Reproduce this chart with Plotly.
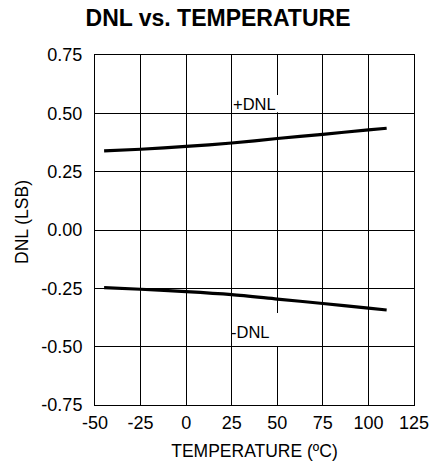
import plotly.graph_objects as go

# Temperature sweep (°C) and measured DNL extremes (LSB)
temp_c = [-45, -25, 0, 25, 50, 75, 100, 110]
dnl_pos = [0.339, 0.346, 0.358, 0.373, 0.392, 0.410, 0.429, 0.436]
dnl_neg = [-0.247, -0.254, -0.264, -0.277, -0.296, -0.315, -0.335, -0.343]

x_ticks = [-50, -25, 0, 25, 50, 75, 100, 125]
y_ticks = [-0.75, -0.50, -0.25, 0.00, 0.25, 0.50, 0.75]
y_tick_text = ["-0.75", "-0.50", "-0.25", "0.00", "0.25", "0.50", "0.75"]

FONT = "Liberation Sans, Arial, sans-serif"

fig = go.Figure()
for ys in (dnl_pos, dnl_neg):
    fig.add_trace(go.Scatter(
        x=temp_c, y=ys, mode="lines",
        line=dict(color="black", width=3.2, shape="spline", smoothing=0.8),
        showlegend=False, hoverinfo="skip",
    ))

# White label patches that hide the grid behind the curve names
fig.add_shape(type="rect", xref="x", yref="y", x0=25.4, x1=52, y0=0.505, y1=0.579,
              fillcolor="white", line_width=0, layer="between")
fig.add_shape(type="rect", xref="x", yref="y", x0=25.4, x1=52, y0=-0.497, y1=-0.356,
              fillcolor="white", line_width=0, layer="between")

fig.add_annotation(x=25, y=0.542, xref="x", yref="y", text="+DNL", showarrow=False,
                   xanchor="left", yanchor="middle", xshift=-1,
                   font=dict(family=FONT, size=16.5, color="black"))
fig.add_annotation(x=25, y=-0.437, xref="x", yref="y", text="-DNL", showarrow=False,
                   xanchor="left", yanchor="middle", xshift=-3,
                   font=dict(family=FONT, size=16.5, color="black"))

# Vertical axis title
fig.add_annotation(x=(22 - 95) / (430 - 95 - 16), y=(470 - 65 - 222) / (470 - 55 - 65),
                   xref="paper", yref="paper", text="DNL (LSB)",
                   showarrow=False, textangle=-90, xanchor="center", yanchor="middle",
                   font=dict(family=FONT, size=17.5, color="black"))

axis_common = dict(
    showgrid=True, gridcolor="black", gridwidth=1,
    showline=True, linecolor="black", linewidth=1, mirror=True,
    ticks="", zeroline=False, automargin=False,
    tickfont=dict(family=FONT, size=18, color="black"),
)

fig.update_layout(
    width=430, height=470,
    margin=dict(l=95, r=16, t=55, b=65),
    paper_bgcolor="white", plot_bgcolor="white",
    title=dict(text="<b>DNL vs. TEMPERATURE</b>", x=(82 + 354) / 2 / 430, xanchor="center",
               y=1 - 18 / 470, yanchor="middle",
               font=dict(family=FONT, size=23, color="black")),
    xaxis=dict(range=[-50, 125], tickvals=x_ticks, ticktext=[str(v) for v in x_ticks],
               ticklabelstandoff=1,
               title=dict(text="TEMPERATURE (ºC)", standoff=13,
                          font=dict(family=FONT, size=17.5, color="black")),
               **axis_common),
    yaxis=dict(range=[-0.75, 0.75], tickvals=y_ticks, ticktext=y_tick_text,
               ticklabelstandoff=8,
               **axis_common),
)

fig.write_html("out.html")
